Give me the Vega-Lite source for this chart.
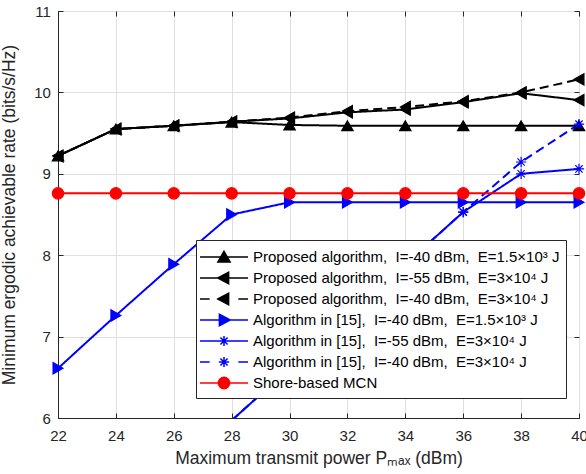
{
  "$schema": "https://vega.github.io/schema/vega-lite/v6.json",
  "width": 521,
  "height": 407,
  "autosize": {"type": "none"},
  "padding": {"left": 58, "top": 11, "right": 7, "bottom": 56},
  "background": "white",
  "config": {
    "font": "Liberation Sans",
    "view": {"stroke": "#262626", "strokeWidth": 1},
    "axis": {
      "labelFontSize": 15,
      "labelColor": "#262626",
      "titleFontSize": 17.5,
      "titleFontWeight": "normal",
      "titleColor": "#262626",
      "domainColor": "#262626",
      "tickColor": "#262626",
      "gridColor": "#dfdfdf",
      "gridOpacity": 1,
      "tickSize": -5,
      "labelFlush": false,
      "labelOverlap": false
    }
  },
  "data": {
    "values": [
      {"s": "Proposed algorithm,\u00a0 I=-40 dBm,\u00a0 E=1.5×10³ J", "x": 22, "y": 9.22},
      {"s": "Proposed algorithm,\u00a0 I=-40 dBm,\u00a0 E=1.5×10³ J", "x": 24, "y": 9.55},
      {"s": "Proposed algorithm,\u00a0 I=-40 dBm,\u00a0 E=1.5×10³ J", "x": 26, "y": 9.59},
      {"s": "Proposed algorithm,\u00a0 I=-40 dBm,\u00a0 E=1.5×10³ J", "x": 28, "y": 9.635},
      {"s": "Proposed algorithm,\u00a0 I=-40 dBm,\u00a0 E=1.5×10³ J", "x": 30, "y": 9.60},
      {"s": "Proposed algorithm,\u00a0 I=-40 dBm,\u00a0 E=1.5×10³ J", "x": 32, "y": 9.59},
      {"s": "Proposed algorithm,\u00a0 I=-40 dBm,\u00a0 E=1.5×10³ J", "x": 34, "y": 9.59},
      {"s": "Proposed algorithm,\u00a0 I=-40 dBm,\u00a0 E=1.5×10³ J", "x": 36, "y": 9.59},
      {"s": "Proposed algorithm,\u00a0 I=-40 dBm,\u00a0 E=1.5×10³ J", "x": 38, "y": 9.59},
      {"s": "Proposed algorithm,\u00a0 I=-40 dBm,\u00a0 E=1.5×10³ J", "x": 40, "y": 9.59},
      {"s": "Proposed algorithm,\u00a0 I=-55 dBm,\u00a0 E=3×10⁴ J", "x": 22, "y": 9.22},
      {"s": "Proposed algorithm,\u00a0 I=-55 dBm,\u00a0 E=3×10⁴ J", "x": 24, "y": 9.55},
      {"s": "Proposed algorithm,\u00a0 I=-55 dBm,\u00a0 E=3×10⁴ J", "x": 26, "y": 9.59},
      {"s": "Proposed algorithm,\u00a0 I=-55 dBm,\u00a0 E=3×10⁴ J", "x": 28, "y": 9.64},
      {"s": "Proposed algorithm,\u00a0 I=-55 dBm,\u00a0 E=3×10⁴ J", "x": 30, "y": 9.68},
      {"s": "Proposed algorithm,\u00a0 I=-55 dBm,\u00a0 E=3×10⁴ J", "x": 32, "y": 9.755},
      {"s": "Proposed algorithm,\u00a0 I=-55 dBm,\u00a0 E=3×10⁴ J", "x": 34, "y": 9.79},
      {"s": "Proposed algorithm,\u00a0 I=-55 dBm,\u00a0 E=3×10⁴ J", "x": 36, "y": 9.88},
      {"s": "Proposed algorithm,\u00a0 I=-55 dBm,\u00a0 E=3×10⁴ J", "x": 38, "y": 9.99},
      {"s": "Proposed algorithm,\u00a0 I=-55 dBm,\u00a0 E=3×10⁴ J", "x": 40, "y": 9.905},
      {"s": "Proposed algorithm,\u00a0 I=-40 dBm,\u00a0 E=3×10⁴ J", "x": 22, "y": 9.22},
      {"s": "Proposed algorithm,\u00a0 I=-40 dBm,\u00a0 E=3×10⁴ J", "x": 24, "y": 9.55},
      {"s": "Proposed algorithm,\u00a0 I=-40 dBm,\u00a0 E=3×10⁴ J", "x": 26, "y": 9.59},
      {"s": "Proposed algorithm,\u00a0 I=-40 dBm,\u00a0 E=3×10⁴ J", "x": 28, "y": 9.64},
      {"s": "Proposed algorithm,\u00a0 I=-40 dBm,\u00a0 E=3×10⁴ J", "x": 30, "y": 9.69},
      {"s": "Proposed algorithm,\u00a0 I=-40 dBm,\u00a0 E=3×10⁴ J", "x": 32, "y": 9.77},
      {"s": "Proposed algorithm,\u00a0 I=-40 dBm,\u00a0 E=3×10⁴ J", "x": 34, "y": 9.82},
      {"s": "Proposed algorithm,\u00a0 I=-40 dBm,\u00a0 E=3×10⁴ J", "x": 36, "y": 9.89},
      {"s": "Proposed algorithm,\u00a0 I=-40 dBm,\u00a0 E=3×10⁴ J", "x": 38, "y": 10.0},
      {"s": "Proposed algorithm,\u00a0 I=-40 dBm,\u00a0 E=3×10⁴ J", "x": 40, "y": 10.16},
      {"s": "Algorithm in [15],\u00a0 I=-40 dBm,\u00a0 E=1.5×10³ J", "x": 22, "y": 6.61},
      {"s": "Algorithm in [15],\u00a0 I=-40 dBm,\u00a0 E=1.5×10³ J", "x": 24, "y": 7.26},
      {"s": "Algorithm in [15],\u00a0 I=-40 dBm,\u00a0 E=1.5×10³ J", "x": 26, "y": 7.89},
      {"s": "Algorithm in [15],\u00a0 I=-40 dBm,\u00a0 E=1.5×10³ J", "x": 28, "y": 8.50},
      {"s": "Algorithm in [15],\u00a0 I=-40 dBm,\u00a0 E=1.5×10³ J", "x": 30, "y": 8.65},
      {"s": "Algorithm in [15],\u00a0 I=-40 dBm,\u00a0 E=1.5×10³ J", "x": 32, "y": 8.65},
      {"s": "Algorithm in [15],\u00a0 I=-40 dBm,\u00a0 E=1.5×10³ J", "x": 34, "y": 8.65},
      {"s": "Algorithm in [15],\u00a0 I=-40 dBm,\u00a0 E=1.5×10³ J", "x": 36, "y": 8.65},
      {"s": "Algorithm in [15],\u00a0 I=-40 dBm,\u00a0 E=1.5×10³ J", "x": 38, "y": 8.65},
      {"s": "Algorithm in [15],\u00a0 I=-40 dBm,\u00a0 E=1.5×10³ J", "x": 40, "y": 8.65},
      {"s": "Algorithm in [15],\u00a0 I=-55 dBm,\u00a0 E=3×10⁴ J", "x": 28, "y": 5.97},
      {"s": "Algorithm in [15],\u00a0 I=-55 dBm,\u00a0 E=3×10⁴ J", "x": 30, "y": 6.61},
      {"s": "Algorithm in [15],\u00a0 I=-55 dBm,\u00a0 E=3×10⁴ J", "x": 32, "y": 7.26},
      {"s": "Algorithm in [15],\u00a0 I=-55 dBm,\u00a0 E=3×10⁴ J", "x": 34, "y": 7.89},
      {"s": "Algorithm in [15],\u00a0 I=-55 dBm,\u00a0 E=3×10⁴ J", "x": 36, "y": 8.53},
      {"s": "Algorithm in [15],\u00a0 I=-55 dBm,\u00a0 E=3×10⁴ J", "x": 38, "y": 9.0},
      {"s": "Algorithm in [15],\u00a0 I=-55 dBm,\u00a0 E=3×10⁴ J", "x": 40, "y": 9.06},
      {"s": "Algorithm in [15],\u00a0 I=-40 dBm,\u00a0 E=3×10⁴ J", "x": 28, "y": 5.97},
      {"s": "Algorithm in [15],\u00a0 I=-40 dBm,\u00a0 E=3×10⁴ J", "x": 30, "y": 6.61},
      {"s": "Algorithm in [15],\u00a0 I=-40 dBm,\u00a0 E=3×10⁴ J", "x": 32, "y": 7.26},
      {"s": "Algorithm in [15],\u00a0 I=-40 dBm,\u00a0 E=3×10⁴ J", "x": 34, "y": 7.89},
      {"s": "Algorithm in [15],\u00a0 I=-40 dBm,\u00a0 E=3×10⁴ J", "x": 36, "y": 8.53},
      {"s": "Algorithm in [15],\u00a0 I=-40 dBm,\u00a0 E=3×10⁴ J", "x": 38, "y": 9.145},
      {"s": "Algorithm in [15],\u00a0 I=-40 dBm,\u00a0 E=3×10⁴ J", "x": 40, "y": 9.61},
      {"s": "Shore-based MCN", "x": 22, "y": 8.76},
      {"s": "Shore-based MCN", "x": 24, "y": 8.76},
      {"s": "Shore-based MCN", "x": 26, "y": 8.76},
      {"s": "Shore-based MCN", "x": 28, "y": 8.76},
      {"s": "Shore-based MCN", "x": 30, "y": 8.76},
      {"s": "Shore-based MCN", "x": 32, "y": 8.76},
      {"s": "Shore-based MCN", "x": 34, "y": 8.76},
      {"s": "Shore-based MCN", "x": 36, "y": 8.76},
      {"s": "Shore-based MCN", "x": 38, "y": 8.76},
      {"s": "Shore-based MCN", "x": 40, "y": 8.76}
    ]
  },
  "layer": [
    {
      "mark": {"type": "line", "strokeWidth": 2, "clip": true},
      "encoding": {
        "x": {"field": "x", "type": "quantitative", "scale": {"domain": [22, 40], "nice": false, "zero": false},
          "axis": {"orient": "bottom", "values": [22, 24, 26, 28, 30, 32, 34, 36, 38, 40], "labelPadding": 15.5, "title": "Maximum transmit power  Pₘₐₓ (dBm)", "titlePadding": 6, "grid": true}},
        "y": {"field": "y", "type": "quantitative", "scale": {"domain": [6, 11], "nice": false, "zero": false},
          "axis": {"orient": "left", "values": [6, 7, 8, 9, 10, 11], "labelPadding": 12.6, "title": "Minimum ergodic achievable rate (bits/s/Hz)", "titlePadding": 15, "grid": true}},
        "color": {"field": "s", "type": "nominal", "legend": null,
          "scale": {"domain": [
            "Proposed algorithm,\u00a0 I=-40 dBm,\u00a0 E=1.5×10³ J",
            "Proposed algorithm,\u00a0 I=-55 dBm,\u00a0 E=3×10⁴ J",
            "Proposed algorithm,\u00a0 I=-40 dBm,\u00a0 E=3×10⁴ J",
            "Algorithm in [15],\u00a0 I=-40 dBm,\u00a0 E=1.5×10³ J",
            "Algorithm in [15],\u00a0 I=-55 dBm,\u00a0 E=3×10⁴ J",
            "Algorithm in [15],\u00a0 I=-40 dBm,\u00a0 E=3×10⁴ J",
            "Shore-based MCN"],
            "range": ["#000000", "#000000", "#000000", "#0000ff", "#0000ff", "#0000ff", "#ff0000"]}},
        "strokeDash": {"field": "s", "type": "nominal", "legend": null,
          "scale": {"domain": [
            "Proposed algorithm,\u00a0 I=-40 dBm,\u00a0 E=1.5×10³ J",
            "Proposed algorithm,\u00a0 I=-55 dBm,\u00a0 E=3×10⁴ J",
            "Proposed algorithm,\u00a0 I=-40 dBm,\u00a0 E=3×10⁴ J",
            "Algorithm in [15],\u00a0 I=-40 dBm,\u00a0 E=1.5×10³ J",
            "Algorithm in [15],\u00a0 I=-55 dBm,\u00a0 E=3×10⁴ J",
            "Algorithm in [15],\u00a0 I=-40 dBm,\u00a0 E=3×10⁴ J",
            "Shore-based MCN"],
            "range": [[1, 0], [1, 0], [9, 5], [1, 0], [1, 0], [9, 5], [1, 0]]}},
        "order": {"field": "x", "type": "quantitative"}
      }
    },
    {
      "transform": [{"filter": "datum.y >= 6"}],
      "mark": {"type": "point", "filled": true, "opacity": 1, "size": 130, "strokeWidth": 1.2},
      "encoding": {
        "x": {"field": "x", "type": "quantitative", "scale": {"domain": [22, 40], "nice": false, "zero": false},
          "axis": {"orient": "top", "values": [22, 24, 26, 28, 30, 32, 34, 36, 38, 40], "labels": false, "title": null, "grid": false, "domain": false}},
        "y": {"field": "y", "type": "quantitative", "scale": {"domain": [6, 11], "nice": false, "zero": false},
          "axis": {"orient": "right", "values": [6, 7, 8, 9, 10, 11], "labels": false, "title": null, "grid": false, "domain": false}},
        "color": {"field": "s", "type": "nominal", "legend": null,
          "scale": {"domain": [
            "Proposed algorithm,\u00a0 I=-40 dBm,\u00a0 E=1.5×10³ J",
            "Proposed algorithm,\u00a0 I=-55 dBm,\u00a0 E=3×10⁴ J",
            "Proposed algorithm,\u00a0 I=-40 dBm,\u00a0 E=3×10⁴ J",
            "Algorithm in [15],\u00a0 I=-40 dBm,\u00a0 E=1.5×10³ J",
            "Algorithm in [15],\u00a0 I=-55 dBm,\u00a0 E=3×10⁴ J",
            "Algorithm in [15],\u00a0 I=-40 dBm,\u00a0 E=3×10⁴ J",
            "Shore-based MCN"],
            "range": ["#000000", "#000000", "#000000", "#0000ff", "#0000ff", "#0000ff", "#ff0000"]}},
        "stroke": {"field": "s", "type": "nominal", "legend": null,
          "scale": {"domain": [
            "Proposed algorithm,\u00a0 I=-40 dBm,\u00a0 E=1.5×10³ J",
            "Proposed algorithm,\u00a0 I=-55 dBm,\u00a0 E=3×10⁴ J",
            "Proposed algorithm,\u00a0 I=-40 dBm,\u00a0 E=3×10⁴ J",
            "Algorithm in [15],\u00a0 I=-40 dBm,\u00a0 E=1.5×10³ J",
            "Algorithm in [15],\u00a0 I=-55 dBm,\u00a0 E=3×10⁴ J",
            "Algorithm in [15],\u00a0 I=-40 dBm,\u00a0 E=3×10⁴ J",
            "Shore-based MCN"],
            "range": ["#000000", "#000000", "#000000", "#0000ff", "#0000ff", "#0000ff", "#ff0000"]}},
        "shape": {"field": "s", "type": "nominal", "legend": null,
          "scale": {"domain": [
            "Proposed algorithm,\u00a0 I=-40 dBm,\u00a0 E=1.5×10³ J",
            "Proposed algorithm,\u00a0 I=-55 dBm,\u00a0 E=3×10⁴ J",
            "Proposed algorithm,\u00a0 I=-40 dBm,\u00a0 E=3×10⁴ J",
            "Algorithm in [15],\u00a0 I=-40 dBm,\u00a0 E=1.5×10³ J",
            "Algorithm in [15],\u00a0 I=-55 dBm,\u00a0 E=3×10⁴ J",
            "Algorithm in [15],\u00a0 I=-40 dBm,\u00a0 E=3×10⁴ J",
            "Shore-based MCN"],
            "range": ["triangle-up", "triangle-left", "triangle-left", "triangle-right",
              "M0,-0.9V0.9M-0.9,0H0.9M-0.64,-0.64L0.64,0.64M-0.64,0.64L0.64,-0.64",
              "M0,-0.9V0.9M-0.9,0H0.9M-0.64,-0.64L0.64,0.64M-0.64,0.64L0.64,-0.64",
              "circle"]}}
      }
    },
    {
      "transform": [{"filter": "false"}],
      "mark": {"type": "point", "filled": true, "opacity": 1, "strokeWidth": 1.5},
      "encoding": {
        "color": {"field": "s", "type": "nominal",
          "scale": {"domain": [
            "Proposed algorithm,\u00a0 I=-40 dBm,\u00a0 E=1.5×10³ J",
            "Proposed algorithm,\u00a0 I=-55 dBm,\u00a0 E=3×10⁴ J",
            "Proposed algorithm,\u00a0 I=-40 dBm,\u00a0 E=3×10⁴ J",
            "Algorithm in [15],\u00a0 I=-40 dBm,\u00a0 E=1.5×10³ J",
            "Algorithm in [15],\u00a0 I=-55 dBm,\u00a0 E=3×10⁴ J",
            "Algorithm in [15],\u00a0 I=-40 dBm,\u00a0 E=3×10⁴ J",
            "Shore-based MCN"],
            "range": ["#000000", "#000000", "#000000", "#0000ff", "#0000ff", "#0000ff", "#ff0000"]},
          "legend": {"orient": "none", "legendX": 138, "legendY": 229, "title": null, "symbolSize": 420, "symbolStrokeWidth": 1.5, "labelFontSize": 15, "labelColor": "#000000", "labelLimit": 0, "padding": 6, "rowPadding": 1, "symbolOffset": 11, "labelOffset": 18, "fillColor": "white", "strokeColor": "#262626", "labelExpr": "datum.label + '\u00a0\u00a0\u00a0\u00a0'"}},
        "stroke": {"field": "s", "type": "nominal",
          "scale": {"domain": [
            "Proposed algorithm,\u00a0 I=-40 dBm,\u00a0 E=1.5×10³ J",
            "Proposed algorithm,\u00a0 I=-55 dBm,\u00a0 E=3×10⁴ J",
            "Proposed algorithm,\u00a0 I=-40 dBm,\u00a0 E=3×10⁴ J",
            "Algorithm in [15],\u00a0 I=-40 dBm,\u00a0 E=1.5×10³ J",
            "Algorithm in [15],\u00a0 I=-55 dBm,\u00a0 E=3×10⁴ J",
            "Algorithm in [15],\u00a0 I=-40 dBm,\u00a0 E=3×10⁴ J",
            "Shore-based MCN"],
            "range": ["#000000", "#000000", "#000000", "#0000ff", "#0000ff", "#0000ff", "#ff0000"]},
          "legend": {"orient": "none", "legendX": 138, "legendY": 229, "title": null, "symbolSize": 420, "symbolStrokeWidth": 1.5, "labelFontSize": 15, "labelColor": "#000000", "labelLimit": 0, "padding": 6, "rowPadding": 1, "symbolOffset": 11, "labelOffset": 18, "fillColor": "white", "strokeColor": "#262626", "labelExpr": "datum.label + '\u00a0\u00a0\u00a0\u00a0'"}},
        "shape": {"field": "s", "type": "nominal",
          "scale": {"domain": [
            "Proposed algorithm,\u00a0 I=-40 dBm,\u00a0 E=1.5×10³ J",
            "Proposed algorithm,\u00a0 I=-55 dBm,\u00a0 E=3×10⁴ J",
            "Proposed algorithm,\u00a0 I=-40 dBm,\u00a0 E=3×10⁴ J",
            "Algorithm in [15],\u00a0 I=-40 dBm,\u00a0 E=1.5×10³ J",
            "Algorithm in [15],\u00a0 I=-55 dBm,\u00a0 E=3×10⁴ J",
            "Algorithm in [15],\u00a0 I=-40 dBm,\u00a0 E=3×10⁴ J",
            "Shore-based MCN"],
            "range": [
              "M-2.34,0H2.34M0,-0.55L0.6,0.5L-0.6,0.5Z",
              "M-2.34,0H2.34M-0.6,0L0.45,-0.55L0.45,0.55Z",
              "M-2.34,0H-1.4M1.4,0H2.34M-0.6,0L0.45,-0.55L0.45,0.55Z",
              "M-2.34,0H2.34M0.6,0L-0.45,-0.55L-0.45,0.55Z",
              "M-2.34,0H2.34M0,-0.5V0.5M-0.5,0H0.5M-0.35,-0.35L0.35,0.35M-0.35,0.35L0.35,-0.35",
              "M-2.34,0H-1.4M1.4,0H2.34M0,-0.5V0.5M-0.5,0H0.5M-0.35,-0.35L0.35,0.35M-0.35,0.35L0.35,-0.35",
              "M-2.34,0H2.34M-0.55,0A0.55,0.55,0,1,0,0.55,0A0.55,0.55,0,1,0,-0.55,0Z"
            ]},
          "legend": {"orient": "none", "legendX": 138, "legendY": 229, "title": null, "symbolSize": 420, "symbolStrokeWidth": 1.5, "labelFontSize": 15, "labelColor": "#000000", "labelLimit": 0, "padding": 6, "rowPadding": 1, "symbolOffset": 11, "labelOffset": 18, "fillColor": "white", "strokeColor": "#262626", "labelExpr": "datum.label + '\u00a0\u00a0\u00a0\u00a0'"}}
      }
    }
  ],
  "resolve": {
    "scale": {"shape": "independent", "color": "independent", "stroke": "independent"},
    "legend": {"shape": "independent", "color": "independent", "stroke": "independent"},
    "axis": {"x": "independent", "y": "independent"}
  }
}
